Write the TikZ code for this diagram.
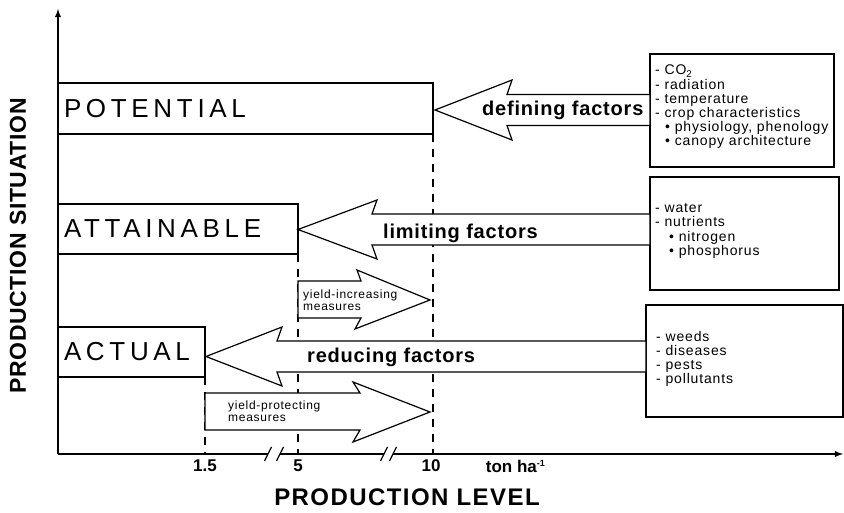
\documentclass[tikz,border=0pt]{standalone}
\usepackage{fontspec}
\setmainfont{Liberation Sans}
\usepackage{tikz}
\usetikzlibrary{calc, positioning}

\begin{document}
\begin{tikzpicture}[>=latex, x=1pt, y=-1pt,
    lvlbox/.style={draw, line width=1.4pt, outer sep=0pt, anchor=north west, inner xsep=6pt, inner ysep=0pt, align=left,
        font=\fontsize{26}{26}\selectfont\addfontfeature{LetterSpace=18}},
    factbox/.style={draw, line width=1.2pt, outer sep=0pt, anchor=north west, minimum height=113pt},
    listtext/.style={anchor=north west, inner sep=0pt, align=left,
        font=\fontsize{14}{14.2}\selectfont\addfontfeature{LetterSpace=6}},
    measuretext/.style={anchor=west, inner sep=0pt, align=left,
        font=\fontsize{12}{12}\selectfont\addfontfeature{LetterSpace=6}},
    factlabel/.style={anchor=west, inner sep=0pt, font=\bfseries\fontsize{20}{20}\selectfont\addfontfeature{LetterSpace=4}},
    ticklabel/.style={inner sep=0pt, font=\bfseries\fontsize{17}{17}\selectfont},
    blockarrow/.style={draw, fill=white, line width=1.2pt, line join=miter},
    guideline/.style={line width=1.5pt, dash pattern=on 8pt off 7pt},
    axisline/.style={line width=1.8pt}]

    \useasboundingbox (0,0) rectangle (844,513);

    % 1. Axes with breaks
    \coordinate (O) at (58,454);
    \draw[->, axisline] (O) -- (58,9);
    \draw[axisline] (O) -- (268,454);
    \draw[axisline] (280,454) -- (384,454);
    \draw[->, axisline] (393,454) -- (843,454);
    \foreach \bx in {268,280,384,393}
        \draw[line width=1.3pt] (\bx-3.5,461) -- (\bx+3.5,447);

    % 2. Production situations
    \node[lvlbox, text width=363pt, minimum height=51pt] (pot) at (58,83) {POTENTIAL};
    \node[lvlbox, text width=228pt, minimum height=50pt] (att) at (58,204) {ATTAINABLE};
    \node[lvlbox, text width=135pt, minimum height=50pt] (act) at (58,327) {ACTUAL};

    % 3. Factor boxes
    \node[factbox, minimum width=184pt] (def) at (650,54) {};
    \node[factbox, minimum width=189pt] (lim) at (650,177) {};
    \node[factbox, minimum width=197pt, minimum height=112pt] (red) at (646,305) {};

    % 4. Dashed guide lines
    \draw[guideline] (pot.south east) -- (pot.south east |- O);
    \draw[guideline] (att.south east) -- (att.south east |- O);
    \draw[guideline] (act.south east) -- (act.south east |- O);

    % 5. Factor arrows
    \coordinate (dtip) at ([xshift=2pt, yshift=-1.5pt]pot.east);
    \draw[blockarrow] (dtip) -- ++(77,-30) -- ++(-5,14.5)
        -- ($(dtip -| def.west)+(0,-15.5)$) -- ($(dtip -| def.west)+(0,15.5)$)
        -- ($(dtip)+(72,15.5)$) -- ++(5,14.5) -- cycle;

    \coordinate (ltip) at ([yshift=-0.5pt]att.east);
    \draw[blockarrow] (ltip) -- ++(79,-29.5) -- ++(-5,14)
        -- ($(ltip -| lim.west)+(0,-15.5)$) -- ($(ltip -| lim.west)+(0,15.5)$)
        -- ($(ltip)+(74,15.5)$) -- ++(5,14) -- cycle;

    \coordinate (rtip) at ([xshift=1pt, yshift=-4.5pt]act.east);
    \draw[blockarrow] (rtip) -- ++(76,-29.5) -- ++(-5,14)
        -- ($(rtip -| red.west)+(0,-15.5)$) -- ($(rtip -| red.west)+(0,15.5)$)
        -- ($(rtip)+(71,15.5)$) -- ++(5,14) -- cycle;

    \node[factlabel] (deflab) at (482,110) {defining factors};
    \node[factlabel] (limlab) at (383,233) {limiting factors};
    \node[factlabel] (redlab) at (307,357) {reducing factors};

    % 6. Measure arrows
    \draw[blockarrow] ([yshift=-27pt]att.south east) coordinate (inc)
        -- ++(63,0) -- ++(-4,-11) -- ++(73,30) -- ++(-75,29) -- ++(6,-11) -- ++(-63,0) -- cycle;
    \node[measuretext] (inclab) at ($(inc)+(5,19)$) {yield-increasing\\measures};

    \draw[blockarrow] ([yshift=-16pt]act.south east) coordinate (pro)
        -- ++(155,0) -- ++(-7,-11) -- ++(77,30) -- ++(-77,30) -- ++(7,-12) -- ++(-155,0) -- cycle;
    \node[measuretext] (prolab) at ($(pro)+(23,18)$) {yield-protecting\\measures};

    % 7. Factor lists
    \node[listtext] (deflist) at (655,65) {- CO\textsubscript{2}\\- radiation\\- temperature\\- crop characteristics\\
        \hspace*{10pt}• physiology, phenology\\\hspace*{10pt}• canopy architecture};
    \node[listtext] (limlist) at (655,203.5) {- water\\- nutrients\\
        \hspace*{14pt}• nitrogen\\\hspace*{14pt}• phosphorus};
    \node[listtext] (redlist) at (656,331) {- weeds\\- diseases\\- pests\\- pollutants};

    % 8. Tick labels
    \node[ticklabel] (t15) at (205,466) {1.5};
    \node[ticklabel] (t5) at (298,466) {5};
    \node[ticklabel] (t10) at (431,466) {10};
    \node[ticklabel, right=45pt of t10] (unit) {ton ha{\fontsize{9}{9}\selectfont\raisebox{6pt}{-1}}};

    % 9. Axis titles
    \node[font=\bfseries\fontsize{23}{23}\selectfont, rotate=90] (ylab) at (18,246)
        {\addfontfeature{LetterSpace=3}PRODUCTION SITUATION};
    \node[font=\bfseries\fontsize{24}{24}\selectfont] (xlab) at (407,497)
        {\addfontfeature{LetterSpace=6}PRODUCTION LEVEL};
\end{tikzpicture}
\end{document}
